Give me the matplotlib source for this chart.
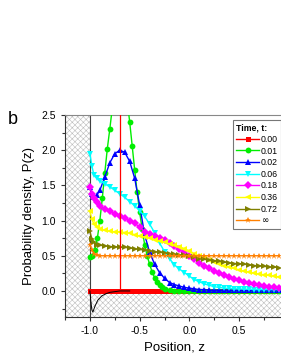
import matplotlib
matplotlib.use("Agg")
import matplotlib.pyplot as plt

plt.rcParams['font.family'] = ['Liberation Sans', 'DejaVu Sans']
plt.rcParams['hatch.linewidth'] = 0.4
plt.rcParams['hatch.color'] = '#bdbdbd'

## positions and curves
z = [-1.00, -0.98, -0.96, -0.93, -0.90, -0.85, -0.80, -0.75, -0.70, -0.65,
     -0.60, -0.55, -0.50, -0.45, -0.40, -0.35, -0.30, -0.25, -0.20, -0.15,
     -0.10, -0.05, 0.00, 0.05, 0.10, 0.15, 0.20, 0.25, 0.30, 0.35,
     0.40, 0.45, 0.50, 0.55, 0.60, 0.65, 0.70, 0.75, 0.80, 0.85, 0.90]

# t = 0.01 is narrow, so it has its own finer grid
z_fine = [-1.000, -0.975, -0.950, -0.925, -0.900, -0.875, -0.850, -0.825, -0.800, -0.775,
          -0.750, -0.725, -0.700, -0.675, -0.650, -0.625, -0.600, -0.575, -0.550, -0.525,
          -0.500, -0.475, -0.450, -0.425, -0.400, -0.375, -0.350, -0.325, -0.300, -0.275,
          -0.250, -0.200, -0.150, -0.100, -0.050, 0.000, 0.050, 0.100, 0.150, 0.200,
          0.250, 0.300, 0.350, 0.400, 0.450, 0.500, 0.550, 0.600, 0.650, 0.700,
          0.750, 0.800, 0.850, 0.900]

p000 = [0.0] * 41
p001 = [0.48, 0.50, 0.58, 0.75, 1.00, 1.32, 1.68, 2.02, 2.30, 2.60,
        2.87, 3.02, 3.08, 3.04, 2.92, 2.70, 2.40, 2.06, 1.72, 1.40,
        1.12, 0.88, 0.66, 0.50, 0.38, 0.27, 0.19, 0.13, 0.09, 0.05,
        0.03, 0.01, 0.0, 0.0, 0.0, 0.0, 0.0, 0.0, 0.0, 0.0,
        0.0, 0.0, 0.0, 0.0, 0.0, 0.0, 0.0, 0.0, 0.0, 0.0,
        0.0, 0.0, 0.0, 0.0]
p002 = [1.47, 1.38, 1.33, 1.36, 1.43, 1.62, 1.82, 1.95, 2.00, 1.97,
        1.84, 1.60, 1.22, 0.80, 0.55, 0.38, 0.26, 0.18, 0.12, 0.09,
        0.07, 0.05, 0.04, 0.03, 0.02, 0.02, 0.01, 0.01, 0.01, 0.01,
        0.01, 0.01, 0.01, 0.01, 0.01, 0.01, 0.01, 0.01, 0.01, 0.01, 0.01]
p006 = [1.95, 1.78, 1.65, 1.60, 1.56, 1.52, 1.48, 1.43, 1.38, 1.33,
        1.27, 1.21, 1.14, 1.06, 0.95, 0.83, 0.68, 0.56, 0.46, 0.37,
        0.31, 0.26, 0.21, 0.16, 0.13, 0.10, 0.08, 0.06, 0.05, 0.04,
        0.035, 0.03, 0.03, 0.025, 0.025, 0.02, 0.02, 0.02, 0.02, 0.02, 0.02]
p018 = [1.47, 1.38, 1.32, 1.26, 1.21, 1.16, 1.13, 1.10, 1.07, 1.04,
        1.00, 0.96, 0.91, 0.84, 0.81, 0.78, 0.75, 0.72, 0.68, 0.64,
        0.60, 0.56, 0.50, 0.45, 0.40, 0.36, 0.33, 0.29, 0.26, 0.23,
        0.20, 0.17, 0.15, 0.13, 0.11, 0.10, 0.08, 0.07, 0.06, 0.05, 0.04]
p036 = [1.13, 1.02, 0.95, 0.91, 0.88, 0.86, 0.85, 0.84, 0.84, 0.83,
        0.82, 0.80, 0.78, 0.77, 0.75, 0.73, 0.71, 0.69, 0.67, 0.65,
        0.63, 0.60, 0.57, 0.53, 0.50, 0.47, 0.44, 0.41, 0.38, 0.36,
        0.34, 0.32, 0.30, 0.28, 0.27, 0.25, 0.24, 0.23, 0.22, 0.21, 0.20]
p072 = [0.85, 0.74, 0.69, 0.66, 0.65, 0.64, 0.63, 0.63, 0.62, 0.62,
        0.61, 0.60, 0.59, 0.58, 0.57, 0.56, 0.55, 0.54, 0.53, 0.52,
        0.51, 0.51, 0.49, 0.48, 0.46, 0.45, 0.44, 0.43, 0.42, 0.41,
        0.40, 0.39, 0.39, 0.38, 0.37, 0.36, 0.36, 0.35, 0.34, 0.34, 0.33]
pinf = [0.66, 0.58, 0.53, 0.51] + [0.50] * 37

labels = ['0.00', '0.01', '0.02', '0.06', '0.18', '0.36', '0.72', r'$\infty$']
colors = ['#ff0000', '#00ee00', '#0000ff', '#00ffff', '#ff00ff', '#ffff00', '#808000', '#ff8000']
markers = ['s', 'o', '^', 'v', 'D', '<', '>', '*']
series = [p000, p001, p002, p006, p018, p036, p072, pinf]
grids = [z, z_fine, z, z, z, z, z, z]
msizes = [3.6, 4.2, 4.5, 4.5, 3.6, 4.5, 4.5, 5]

# start position of the t=0 delta and the wall
z0 = -0.70
wall = -1.0
# thin black curve near the wall
black_z = [-1.00, -0.99, -0.98, -0.97, -0.95, -0.92, -0.88, -0.84, -0.80, -0.75, -0.70, -0.60]
black_p = [0.00, -0.15, -0.27, -0.30, -0.22, -0.13, -0.07, -0.04, -0.02, -0.01, 0.00, 0.00]

fig = plt.figure(figsize=(2.81, 3.63), dpi=100)
ax = fig.add_axes([65/281, 46/363, 218/281, 202/363])
xmin, xmax = -1.24, 0.94
ymin, ymax = -0.37, 2.5

## hatched forbidden regions
ax.fill_between([xmin, wall], ymin, ymax, facecolor='white', hatch='xxxxxx', edgecolor='#bdbdbd', lw=0, zorder=0)
ax.fill_between([wall, xmax], ymin, 0, facecolor='white', hatch='xxxxxx', edgecolor='#bdbdbd', lw=0, zorder=0)
ax.axvline(wall, color='#404040', lw=0.8, zorder=1)

for zz, p, lab, c, m, ms in zip(grids, series, labels, colors, markers, msizes):
    ax.plot(zz, p, color=c, marker=m, ms=ms, lw=1.0, mew=0, label=lab, zorder=3)
ax.plot([z0, z0], [0, ymax], color='#ff0000', lw=0.9, zorder=3)
ax.plot(black_z, black_p, color='black', lw=0.7, zorder=4)

ax.set_xlim(xmin, xmax)
ax.set_ylim(ymin, ymax)
ax.set_xticks([-1.0, -0.5, 0.0, 0.5])
ax.set_xticks([-1.25, -0.75, -0.25, 0.25, 0.75], minor=True)
ax.set_yticks([0.0, 0.5, 1.0, 1.5, 2.0, 2.5])
ax.set_yticks([-0.25, 0.25, 0.75, 1.25, 1.75, 2.25], minor=True)
ax.xaxis.set_major_formatter(matplotlib.ticker.FormatStrFormatter('%.1f'))
ax.yaxis.set_major_formatter(matplotlib.ticker.FormatStrFormatter('%.1f'))
ax.tick_params(which='both', direction='out', labelsize=7.5, width=0.8, colors='#333333', labelcolor='black')
ax.tick_params(which='major', length=3)
ax.tick_params(which='minor', length=2)
ax.spines['top'].set_color('#888888')
ax.spines['right'].set_visible(False)
for s in ['left', 'bottom']:
    ax.spines[s].set_color('#333333')
    ax.spines[s].set_linewidth(0.8)

ax.set_xlabel('Position, z', fontsize=9.5, labelpad=4)
ax.set_ylabel('Probability density, P(z)', fontsize=9.5, labelpad=5)
fig.text(8/281, 1 - 124/363, 'b', fontsize=13)

leg = ax.legend(title='Time, t:', loc='upper right', bbox_to_anchor=(1.0, 0.985), fontsize=6.3,
                title_fontsize=6.3, frameon=True, fancybox=False, handlelength=2.6,
                handletextpad=0.2, labelspacing=0.3, borderpad=0.4, borderaxespad=0.2)
leg.get_title().set_fontweight('bold')
leg._legend_box.align = 'left'
leg.get_frame().set_edgecolor('#555555')
leg.get_frame().set_linewidth(0.8)

fig.savefig('out.png', dpi=100)
